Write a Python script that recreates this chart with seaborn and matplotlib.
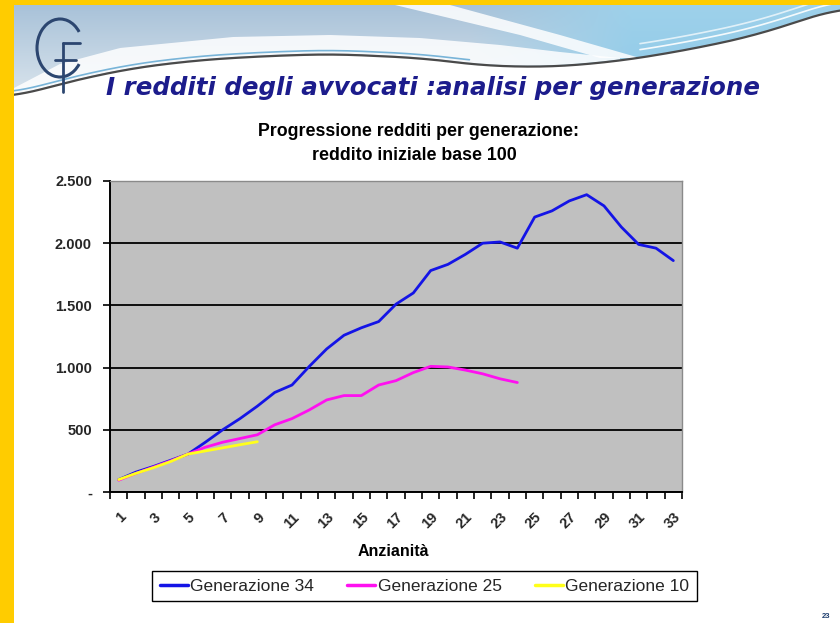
import numpy as np
import pandas as pd
import matplotlib
matplotlib.use("Agg")
import matplotlib.pyplot as plt
import seaborn as sns
from matplotlib.patches import Polygon, Arc, Rectangle
from matplotlib.lines import Line2D

# ---------------- data ----------------
anzianita = list(range(1, 34))
gen34 = [100, 160, 205, 255, 305, 400, 500, 590, 690, 800, 860, 1010, 1150, 1260,
         1320, 1370, 1510, 1600, 1780, 1830, 1910, 2000, 2010, 1960, 2210, 2260,
         2340, 2390, 2300, 2130, 1990, 1960, 1860]
gen25 = [95, 150, 200, 250, 305, 360, 400, 430, 460, 540, 590, 660, 740, 775,
         775, 860, 895, 960, 1010, 1005, 980, 950, 910, 880]
gen10 = [100, 150, 195, 245, 305, 330, 355, 380, 404]
series_names = ["Generazione 34", "Generazione 25", "Generazione 10"]
series_colors = ["#1414E6", "#FF10F0", "#FFFF1A"]
y_ticks = [0, 500, 1000, 1500, 2000, 2500]
y_labels = ["-", "500", "1.000", "1.500", "2.000", "2.500"]
x_label_pos = list(range(1, 34, 2))
x_labels = [str(v) for v in x_label_pos]
title_main = "I redditi degli avvocati :analisi per generazione"
chart_title_1 = "Progressione redditi per generazione:"
chart_title_2 = "reddito iniziale base 100"
x_title = "Anzianità"

rows = []
for name, vals in zip(series_names, [gen34, gen25, gen10]):
    for a, v in zip(anzianita, vals):
        rows.append({"Anzianità": a, "Reddito": v, "Serie": name})
df = pd.DataFrame(rows)

sns.set_theme(style="white")
plt.rcParams["font.family"] = ["Liberation Sans", "DejaVu Sans"]

W, H = 840, 623
fig = plt.figure(figsize=(W / 100, H / 100), dpi=100)
fig.patch.set_facecolor("white")

# ---------------- background decoration ----------------
bg = fig.add_axes([0, 0, 1, 1])
bg.set_xlim(0, W)
bg.set_ylim(H, 0)
bg.axis("off")

# dark swoosh curve
cx = np.array([14, 67, 133, 200, 267, 333, 420, 487, 553, 620, 687, 753, 840])
cy = np.array([97, 82, 68, 60, 56, 54, 58, 66, 67, 61, 50, 36, 8])
xs = np.linspace(14, 840, 400)
ys = np.interp(xs, cx, cy)
k = 15
ys = np.convolve(np.pad(ys, k, mode="edge"), np.ones(2 * k + 1) / (2 * k + 1), mode="valid")

# gradient image above the curve
gx = np.linspace(0, 1, 400)
gy = np.linspace(0, 1, 100)
GX, GY = np.meshgrid(gx, gy)
left_top = np.array([0.66, 0.76, 0.85])
left_bot = np.array([0.86, 0.90, 0.93])
right_top = np.array([0.62, 0.82, 0.92])
right_bot = np.array([0.56, 0.79, 0.91])
wr = np.clip((GX - 0.55) / 0.2, 0, 1)[..., None]
top = left_top * (1 - wr) + right_top * wr
bot = left_bot * (1 - wr) + right_bot * wr
img = top * (1 - GY[..., None]) + bot * GY[..., None]
im = bg.imshow(img, extent=(14, 840, 100, 5), aspect="auto", zorder=1)
clip = Polygon(np.vstack([[14, 5], [840, 5], np.column_stack([xs[::-1], ys[::-1]])]),
               closed=True, transform=bg.transData, facecolor="none", edgecolor="none")
bg.add_patch(clip)
im.set_clip_path(clip)

# white crescent
ux = np.array([14, 60, 120, 233, 330, 420, 500, 560, 620])
uy = np.array([88, 64, 48, 37, 35, 38, 45, 52, 58])
uxs = np.linspace(14, 620, 200)
uys = np.interp(uxs, ux, uy)
lys = np.interp(uxs, xs, ys)
bg.add_patch(Polygon(np.vstack([np.column_stack([uxs, uys]),
                                np.column_stack([uxs[::-1], lys[::-1] - 1])]),
                     closed=True, facecolor="white", edgecolor="none", alpha=0.85, zorder=2))
# white streak top
bg.add_patch(Polygon([[395, 5], [450, 5], [560, 35], [640, 58], [600, 58], [520, 35]],
                     closed=True, facecolor="white", edgecolor="none", alpha=0.85, zorder=2))
# light streak lines near top right
for off, a in [(0, 0.9), (6, 0.7)]:
    sx = np.linspace(640, 840, 50)
    sy = np.interp(sx, xs, ys) - 8 - off
    bg.plot(sx, sy, color="white", lw=1.2, alpha=a, zorder=3)
# blue thin line and dark line
bl = xs < 470
bg.plot(xs[bl], ys[bl] - 4, color="#78b4d8", lw=1.2, zorder=3)
bg.plot(xs, ys, color="#4a4a4a", lw=1.6, zorder=4)

# yellow frame
bg.add_patch(Rectangle((0, 0), 14, H, facecolor="#FFCC00", edgecolor="none", zorder=5))
bg.add_patch(Rectangle((0, 0), W, 5, facecolor="#FFCC00", edgecolor="none", zorder=5))

# logo
bg.add_patch(Arc((60, 48), 46, 58, theta1=40, theta2=320, color="#2c4670", lw=2.2, zorder=6))
bg.plot([63, 63], [43, 92], color="#2c4670", lw=2.0, zorder=6)
bg.plot([63, 80], [43, 43], color="#2c4670", lw=2.0, zorder=6)
bg.plot([55, 76], [60, 60], color="#2c4670", lw=2.0, zorder=6)

# main title
t = fig.text(106 / W, 1 - 95 / H, title_main, ha="left", va="baseline",
             fontsize=18, fontweight="bold", fontstyle="italic", color="#1c1c8c",
             family=["DejaVu Sans"])
fig.canvas.draw()
bb = t.get_window_extent(renderer=fig.canvas.get_renderer())
t.set_fontsize(18 * 654 / bb.width)

# chart titles
fig.text(418 / W, 1 - 131 / H, chart_title_1, ha="center", va="center",
         fontsize=12.8, fontweight="bold", color="black")
fig.text(414 / W, 1 - 156 / H, chart_title_2, ha="center", va="center",
         fontsize=12.8, fontweight="bold", color="black")
fig.text(393 / W, 1 - 552 / H, x_title, ha="center", va="center",
         fontsize=11.5, fontweight="bold", color="black")
fig.text(826 / W, 1 - 617 / H, "23", ha="center", va="center",
         fontsize=5.5, fontweight="bold", color="#1f3f6f")

# ---------------- chart ----------------
ax = fig.add_axes([110 / W, 1 - 492 / H, 572 / W, 311 / H])
ax.set_facecolor("#C0C0C0")
sns.lineplot(data=df, x="Anzianità", y="Reddito", hue="Serie", hue_order=series_names,
             palette=dict(zip(series_names, series_colors)), linewidth=2.0,
             errorbar=None, legend=False, ax=ax, zorder=3)

ax.set_xlim(0.5, 33.5)
ax.set_ylim(0, 2500)
ax.set_xlabel("")
ax.set_ylabel("")
ax.set_xticks(np.arange(0.5, 34, 1))
ax.set_xticklabels([])
ax.set_xticks(x_label_pos, minor=True)
ax.set_xticklabels(x_labels, minor=True, rotation=45, ha="right",
                   rotation_mode="anchor", fontsize=10.5, fontweight="bold")
ax.tick_params(axis="x", which="major", direction="out", length=5, width=1.2,
               color="black", bottom=True)
ax.tick_params(axis="x", which="minor", length=0, pad=13, bottom=True)
ax.set_yticks(y_ticks)
ax.set_yticklabels(y_labels, fontsize=10.5, fontweight="bold")
ax.tick_params(axis="y", direction="out", length=5, width=1.2, color="black",
               left=True, pad=8)
ax.yaxis.grid(True, color="black", lw=1.3)
ax.xaxis.grid(False)
ax.set_axisbelow(True)
for s in ["left", "bottom"]:
    ax.spines[s].set_color("black")
    ax.spines[s].set_linewidth(1.4)
for s in ["top", "right"]:
    ax.spines[s].set_color("#8a8a8a")
    ax.spines[s].set_linewidth(1.0)

handles = [Line2D([0], [0], color=c, lw=2.5) for c in series_colors]
leg = ax.legend(handles, series_names, loc="center",
                bbox_to_anchor=(152 / W, 1 - 604 / H, 545 / W, 36 / H),
                bbox_transform=fig.transFigure, ncol=3, mode="expand",
                frameon=True, fancybox=False, framealpha=1, edgecolor="black",
                handlelength=1.6, handletextpad=0.15, borderaxespad=0,
                borderpad=0.45, fontsize=12.5)
leg.get_frame().set_linewidth(1.0)

fig.savefig("out.png", dpi=100, facecolor="white")
